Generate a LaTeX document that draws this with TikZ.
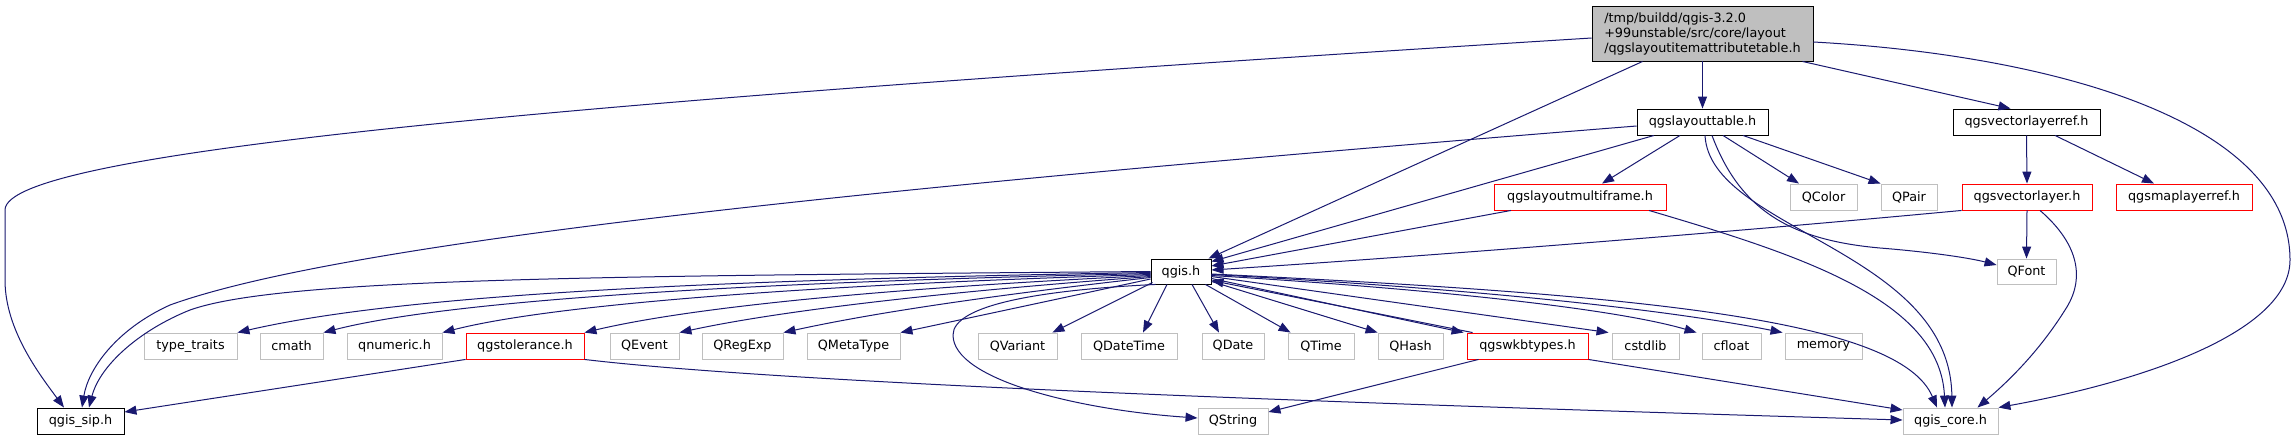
\documentclass[tikz,border=0pt]{standalone}
\usepackage{fontspec}
\setmainfont{DejaVu Sans}
\usetikzlibrary{arrows.meta,calc}
\definecolor{navy}{HTML}{191970}
\definecolor{dxred}{HTML}{FF0000}
\definecolor{dxgray}{HTML}{BFBFBF}
\begin{document}
\begin{tikzpicture}[x=1pt,y=-1pt,
  box/.style={draw, line width=0.9pt, inner sep=0pt, minimum height=26pt, fill=white, font=\fontsize{12.8}{15}\selectfont},
  bk/.style={box, draw=black},
  rd/.style={box, draw=dxred},
  gy/.style={box, draw=dxgray},
  dep/.style={navy, line width=1pt, -{Triangle[length=12pt,width=9pt]}}]
\fill[white] (0,0) rectangle (2295,440);
\useasboundingbox (0,0) rectangle (2295,440);
% nodes
\node[bk, fill=dxgray, minimum width=221pt, minimum height=55pt, align=left] (T) at (1702.5,33.5) {/tmp/buildd/qgis-3.2.0\\+99unstable/src/core/layout\\/qgslayoutitemattributetable.h};
\node[bk, minimum width=131pt] (L) at (1702.5,122) {qgslayouttable.h};
\node[bk, minimum width=147pt] (VR) at (2026.5,122) {qgsvectorlayerref.h};
\node[rd, minimum width=172pt] (MF) at (1580,197) {qgslayoutmultiframe.h};
\node[gy, minimum width=67pt] (QColor) at (1823.5,197) {QColor};
\node[gy, minimum width=56pt] (QPair) at (1909,197) {QPair};
\node[rd, minimum width=130pt] (VL) at (2027,197) {qgsvectorlayer.h};
\node[rd, minimum width=136pt] (MLR) at (2184,197) {qgsmaplayerref.h};
\node[bk, minimum width=60pt, minimum height=25pt] (qgis) at (1181,271.5) {qgis.h};
\node[gy, minimum width=59pt, minimum height=25pt] (QFont) at (2026.5,271.5) {QFont};
\node[gy, minimum width=93pt] (typetraits) at (190.5,346) {type\_traits};
\node[gy, minimum width=63pt] (cmath) at (291.5,346) {cmath};
\node[gy, minimum width=95pt] (qnumeric) at (394.5,346) {qnumeric.h};
\node[rd, minimum width=118pt] (tol) at (525,346) {qgstolerance.h};
\node[gy, minimum width=69pt] (QEvent) at (644.5,346) {QEvent};
\node[gy, minimum width=81pt] (QRegExp) at (742.5,346) {QRegExp};
\node[gy, minimum width=93pt] (QMetaType) at (853.5,346) {QMetaType};
\node[gy, minimum width=79pt] (QVariant) at (1017.5,346) {QVariant};
\node[gy, minimum width=96pt] (QDateTime) at (1129,346) {QDateTime};
\node[gy, minimum width=62pt] (QDate) at (1233,346) {QDate};
\node[gy, minimum width=66pt] (QTime) at (1321,346) {QTime};
\node[gy, minimum width=65pt] (QHash) at (1410.5,346) {QHash};
\node[rd, minimum width=121pt] (wkb) at (1527.5,346) {qgswkbtypes.h};
\node[gy, minimum width=67pt] (cstdlib) at (1645.5,346) {cstdlib};
\node[gy, minimum width=59pt] (cfloat) at (1731.5,346) {cfloat};
\node[gy, minimum width=77pt] (memory) at (1823.5,346) {memory};
\node[bk, minimum width=87pt] (sip) at (80.5,421) {qgis\_sip.h};
\node[gy, minimum width=70pt] (QString) at (1233,421) {QString};
\node[gy, minimum width=95pt] (core) at (1950.5,421) {qgis\_core.h};
% edges from top node
\draw[dep] ($(T.west)+(0,4.5)$) .. controls (600,100) and (5,150) .. (5,210) -- (5,280) .. controls (5,330) and (40,375) .. ($(sip.north)+(-16.5,0)$);
\draw[dep] ($(T.south west)+(51,0)$) -- ($(qgis.north east)+(-3,0)$);
\draw[dep] (T.south) -- (L.north);
\draw[dep] ($(T.south east)+(-11,0)$) -- ($(VR.north)+(-16,0)$);
\draw[dep] ($(T.east)+(0,8.5)$) .. controls (2050,55) and (2290,120) .. (2290,260) .. controls (2290,330) and (2150,380) .. (core.north east);
% qgslayouttable
\draw[dep] ($(L.west)+(0,4)$) .. controls (900,185) and (350,240) .. (170,305) .. controls (115,330) and (88,370) .. ($(sip.north)+(1.5,0)$);
\draw[dep] ($(L.south)+(-48.5,0)$) -- ($(qgis.north east)+(0,3)$);
\draw[dep] ($(L.south)+(-22.5,0)$) -- ($(MF.north)+(22,0)$);
\draw[dep] ($(L.south)+(20.5,0)$) -- ($(QColor.north)+(-24.5,0)$);
\draw[dep] ($(L.south)+(40.5,0)$) -- (QPair.north west);
\draw[dep] ($(L.south)+(9.5,0)$) .. controls (1740,210) and (1790,240) .. (1880,248) .. controls (1930,252) and (1970,258) .. ($(QFont.west)+(0,-6.5)$);
\draw[dep] ($(L.south)+(2.5,0)$) .. controls (1710,230) and (1950,250) .. ($(core.north)+(1.5,0)$);
% qgslayoutmultiframe
\draw[dep] ($(MF.south)+(-69,0)$) -- ($(qgis.east)+(0,-5.5)$);
\draw[dep] ($(MF.south)+(69,0)$) .. controls (1800,255) and (1940,300) .. ($(core.north)+(-5.5,0)$);
% qgsvectorlayer
\draw[dep] (VL.south west) .. controls (1700,235) and (1400,258) .. ($(qgis.east)+(0,-1.5)$);
\draw[dep] (VL.south) -- (QFont.north);
\draw[dep] ($(VL.south)+(13,0)$) .. controls (2080,245) and (2085,280) .. (2065,310) .. controls (2040,350) and (2010,380) .. ($(core.north east)+(-21,0)$);
% qgsvectorlayerref
\draw[dep] (VR.south) -- (VL.north);
\draw[dep] ($(VR.south)+(28.5,0)$) -- ($(MLR.north)+(-30,0)$);
% qgis.h
\draw[dep] (qgis.west) .. controls (600,276) and (280,278) .. (190,310) .. controls (140,330) and (100,365) .. ($(sip.north)+(8.5,0)$);
\draw[dep] ($(qgis.west)+(0,1)$) .. controls (700,280) and (400,295) .. (typetraits.north east);
\draw[dep] ($(qgis.west)+(0,2)$) .. controls (750,282) and (450,300) .. (cmath.north east);
\draw[dep] ($(qgis.west)+(0,3)$) .. controls (800,285) and (550,305) .. (qnumeric.north east);
\draw[dep] ($(qgis.west)+(0,4)$) .. controls (850,290) and (680,310) .. (tol.north east);
\draw[dep] ($(qgis.west)+(0,5)$) .. controls (900,295) and (760,315) .. (QEvent.north east);
\draw[dep] ($(qgis.west)+(0,6)$) .. controls (950,300) and (850,318) .. (QRegExp.north east);
\draw[dep] ($(qgis.west)+(0,7.5)$) .. controls (1030,305) and (950,322) .. (QMetaType.north east);
\draw[dep] ($(qgis.south west)+(2,-2)$) -- ($(QVariant.north east)+(-5,0)$);
\draw[dep] ($(qgis.south)+(-14,0)$) -- ($(QDateTime.north)+(14,0)$);
\draw[dep] ($(qgis.south)+(11,0)$) -- ($(QDate.north)+(-14,0)$);
\draw[dep] ($(qgis.south east)+(-6,0)$) -- ($(QTime.north west)+(3,0)$);
\draw[dep] ($(qgis.south east)+(0,-3)$) -- (QHash.north west);
\draw[dep] ($(qgis.east)+(0,7)$) -- ($(wkb.north west)+(-3,0)$);
\draw[dep] ($(wkb.north west)+(6,0)$) -- ($(qgis.east)+(0,9)$);
\draw[dep] ($(qgis.east)+(0,5)$) -- ($(cstdlib.north west)+(-3,0)$);
\draw[dep] ($(qgis.east)+(0,4)$) .. controls (1450,290) and (1620,310) .. ($(cfloat.north west)+(-5,0)$);
\draw[dep] ($(qgis.east)+(0,3)$) .. controls (1500,290) and (1680,312) .. ($(memory.north west)+(-2,0)$);
\draw[dep] ($(qgis.east)+(0,2.5)$) .. controls (1650,295) and (1900,320) .. ($(core.north)+(-13.5,0)$);
\draw[dep] ($(qgis.south west)+(5,0)$) .. controls (1040,290) and (953,305) .. (953,335) .. controls (953,380) and (1080,410) .. ($(QString.west)+(0,-3)$);
% qgstolerance
\draw[dep] (tol.south west) -- ($(sip.east)+(0,-9)$);
\draw[dep] (tol.south east) .. controls (800,385) and (1400,405) .. ($(core.west)+(0,-1)$);
% qgswkbtypes
\draw[dep] ($(wkb.south west)+(12,0)$) -- ($(QString.east)+(0,-9)$);
\draw[dep] (wkb.south east) -- ($(core.west)+(0,-11)$);
\end{tikzpicture}
\end{document}
